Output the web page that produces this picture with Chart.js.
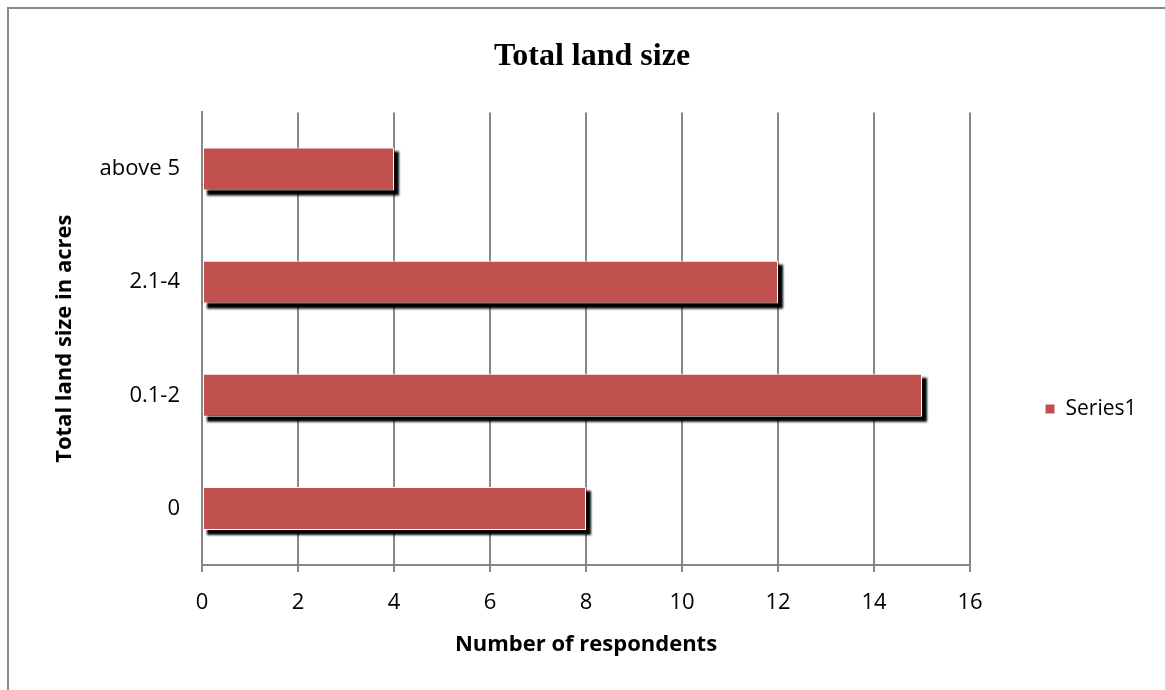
<!DOCTYPE html>
<html>
<head>
<meta charset="utf-8">
<script src="https://cdn.jsdelivr.net/npm/chart.js@4"></script>
<style>
  html, body { margin: 0; padding: 0; background: #fff; overflow: hidden; }
  #wrap { position: relative; width: 1165px; height: 690px; }
  #frame { position: absolute; left: 7px; top: 7px; width: 1200px; height: 800px; border: 2px solid #8a8a8a; }
  canvas { position: absolute; left: 0; top: 0; }
</style>
</head>
<body>
<div id="wrap">
  <div id="frame"></div>
  <canvas id="landChart" width="1165" height="690"></canvas>
</div>
<script>
// Land size survey
const landSizes = ['0', '0.1-2', '2.1-4', 'above 5'];
const respondents = [8, 15, 12, 4];
const xTicks = [0, 2, 4, 6, 8, 10, 12, 14, 16];

const gridGray = '#878787';

// black drop shadow behind each bar, taken from the bar elements
const barShadow = {
    id: 'barShadow',
    beforeDatasetDraw(chart, args) {
        const c = chart.ctx;
        c.save();
        c.fillStyle = '#000';
        c.filter = 'blur(0.8px)';
        chart.getDatasetMeta(args.index).data.forEach(bar => {
            const { x, y, base, height } = bar.getProps(['x', 'y', 'base', 'height'], true);
            const left = Math.min(x, base);
            c.fillRect(left + 4, y - height / 2 + 4, Math.abs(x - base) + 1, height + 1);
        });
        c.restore();
    }
};

const ctx = document.getElementById('landChart').getContext('2d');
const landChart = new Chart(ctx, {
    type: 'bar',
    data: {
        labels: landSizes,
        datasets: [{
            label: 'Series1',
            data: respondents,
            backgroundColor: '#C0504D',
            borderColor: '#ffffff',
            borderWidth: 1,
            borderSkipped: false,
            categoryPercentage: 1,
            barPercentage: 0.38
        }]
    },
    options: {
        indexAxis: 'y',
        responsive: false,
        animation: false,
        layout: { padding: { left: 40, right: 21, top: 6, bottom: 10 } },
        scales: {
            x: {
                min: 0,
                max: 16,
                afterBuildTicks(scale) {
                    scale.ticks = xTicks.map(v => ({ value: v }));
                },
                afterFit(scale) { scale.height = 115; },
                grid: { color: gridGray, lineWidth: 2, tickLength: 7, tickColor: gridGray },
                border: { color: gridGray, width: 2 },
                ticks: {
                    color: '#000',
                    font: { family: 'Open Sans', size: 22 },
                    padding: 18
                },
                title: {
                    display: true,
                    text: 'Number of respondents',
                    color: '#000',
                    font: { family: 'Open Sans', size: 22, weight: 'bold' },
                    padding: { top: 0, bottom: 22 }
                }
            },
            y: {
                reverse: true,
                afterFit(scale) { scale.width = 162; },
                grid: { display: false, drawTicks: false },
                border: { color: gridGray, width: 2 },
                ticks: {
                    color: '#000',
                    font: { family: 'Open Sans', size: 22 },
                    padding: 22
                },
                title: {
                    display: true,
                    text: 'Total land size in acres',
                    color: '#000',
                    font: { family: 'Open Sans', size: 22, weight: 'bold' },
                    padding: { top: 12, bottom: 0 }
                }
            }
        },
        plugins: {
            title: {
                display: true,
                text: 'Total land size',
                color: '#000',
                font: { family: 'Liberation Serif', size: 32, weight: 'bold' },
                padding: { top: 32, bottom: 36 }
            },
            legend: {
                position: 'right',
                maxWidth: 174,
                title: {
                    display: true,
                    text: '',
                    font: { size: 10 },
                    padding: { top: 0, bottom: 120 }
                },
                labels: {
                    color: '#000',
                    font: { family: 'Open Sans', size: 21 },
                    boxWidth: 10,
                    boxHeight: 10,
                    padding: 75
                }
            },
            tooltip: { enabled: false }
        }
    },
    plugins: [barShadow]
});
</script>
</body>
</html>
